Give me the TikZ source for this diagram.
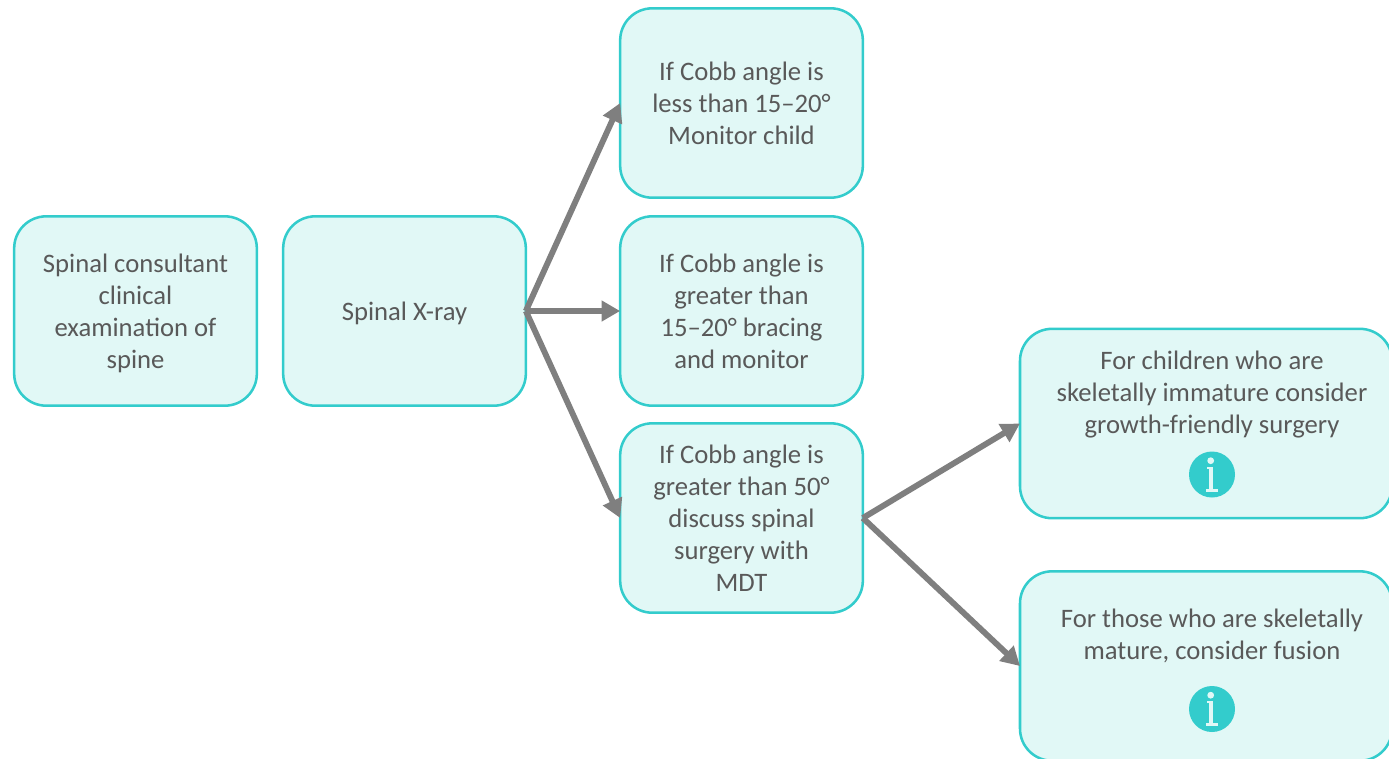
\documentclass[tikz,border=0pt]{standalone}
\usepackage{fontspec}
\setmainfont{Carlito}
\usetikzlibrary{arrows.meta}
\definecolor{boxline}{HTML}{33CCCC}
\definecolor{boxfill}{HTML}{E1F8F6}
\definecolor{txt}{HTML}{595959}
\definecolor{arrowc}{HTML}{7F7F7F}
\tikzset{
  x=0.75pt,y=-0.75pt,
  flowbox/.style={draw=boxline,fill=boxfill,line width=1.9pt,rounded corners=24pt,
    minimum width=182pt,minimum height=142pt,inner sep=0pt,outer sep=0pt,anchor=center,
    text=txt,align=center,font=\fontsize{20}{24}\selectfont},
  widebox/.style={flowbox,minimum width=279pt,minimum height=142pt},
  boxtext/.style={text=txt,align=center,inner sep=0pt,font=\fontsize{20}{24}\selectfont},
  conn/.style={draw=arrowc,line width=4.4pt,-{Triangle[length=14pt,width=15pt]}},
  infodisc/.style={circle,fill=boxline,minimum size=34.5pt,inner sep=0pt},
  infomark/.style={fill=boxfill},
  pics/infoicon/.style={code={
    \fill[infomark] (-1.3,-13.8) circle (3.4);
    \fill[infomark] (-5.5,-8) rectangle (1.4,-5.6);
    \fill[infomark] (-3.4,-8) rectangle (1.4,16);
    \fill[infomark] (-6.4,14) rectangle (6.3,17.2);
  }}
}
\begin{document}
\begin{tikzpicture}
\useasboundingbox (0,0) rectangle (1389,758);
\clip (0,0) rectangle (1389,758);
\node[flowbox] (a) at (135.5,311) {\raisebox{-1.5pt}[\height][\depth]{\parbox{170pt}{\centering Spinal consultant\\clinical\\examination of\\spine}}};
\node[flowbox] (b) at (404.5,311) {\raisebox{-1.5pt}[\height][\depth]{Spinal X-ray}};
\node[flowbox] (c1) at (741.5,103) {\parbox{170pt}{\centering If Cobb angle is\\less than 15–20°\\Monitor child}};
\node[flowbox] (c2) at (741.5,311) {\parbox{170pt}{\centering If Cobb angle is\\greater than\\15–20° bracing\\and monitor}};
\node[flowbox] (c3) at (741.5,518) {\parbox{170pt}{\centering If Cobb angle is\\greater than 50°\\discuss spinal\\surgery with\\MDT}};
\node[widebox] (d1) at (1206,423.5) {};
\node[widebox] (d2) at (1206,666) {};
\node[boxtext] (t1) at (1212,394.5) {For children who are\\skeletally immature consider\\growth-friendly surgery};
\node[boxtext] (t2) at (1212,636) {For those who are skeletally\\mature, consider fusion};
\node[infodisc] (i1) at (1212,474.5) {};
\pic at (i1) {infoicon};
\node[infodisc] (i2) at (1212,709) {};
\pic at (i2) {infoicon};
\draw[conn] (b.east) -- (c1.west);
\draw[conn] (b.east) -- (c2.west);
\draw[conn] (b.east) -- (c3.west);
\draw[conn] (c3.east) -- (d1.west);
\draw[conn] (c3.east) -- (d2.west);
\end{tikzpicture}
\end{document}
